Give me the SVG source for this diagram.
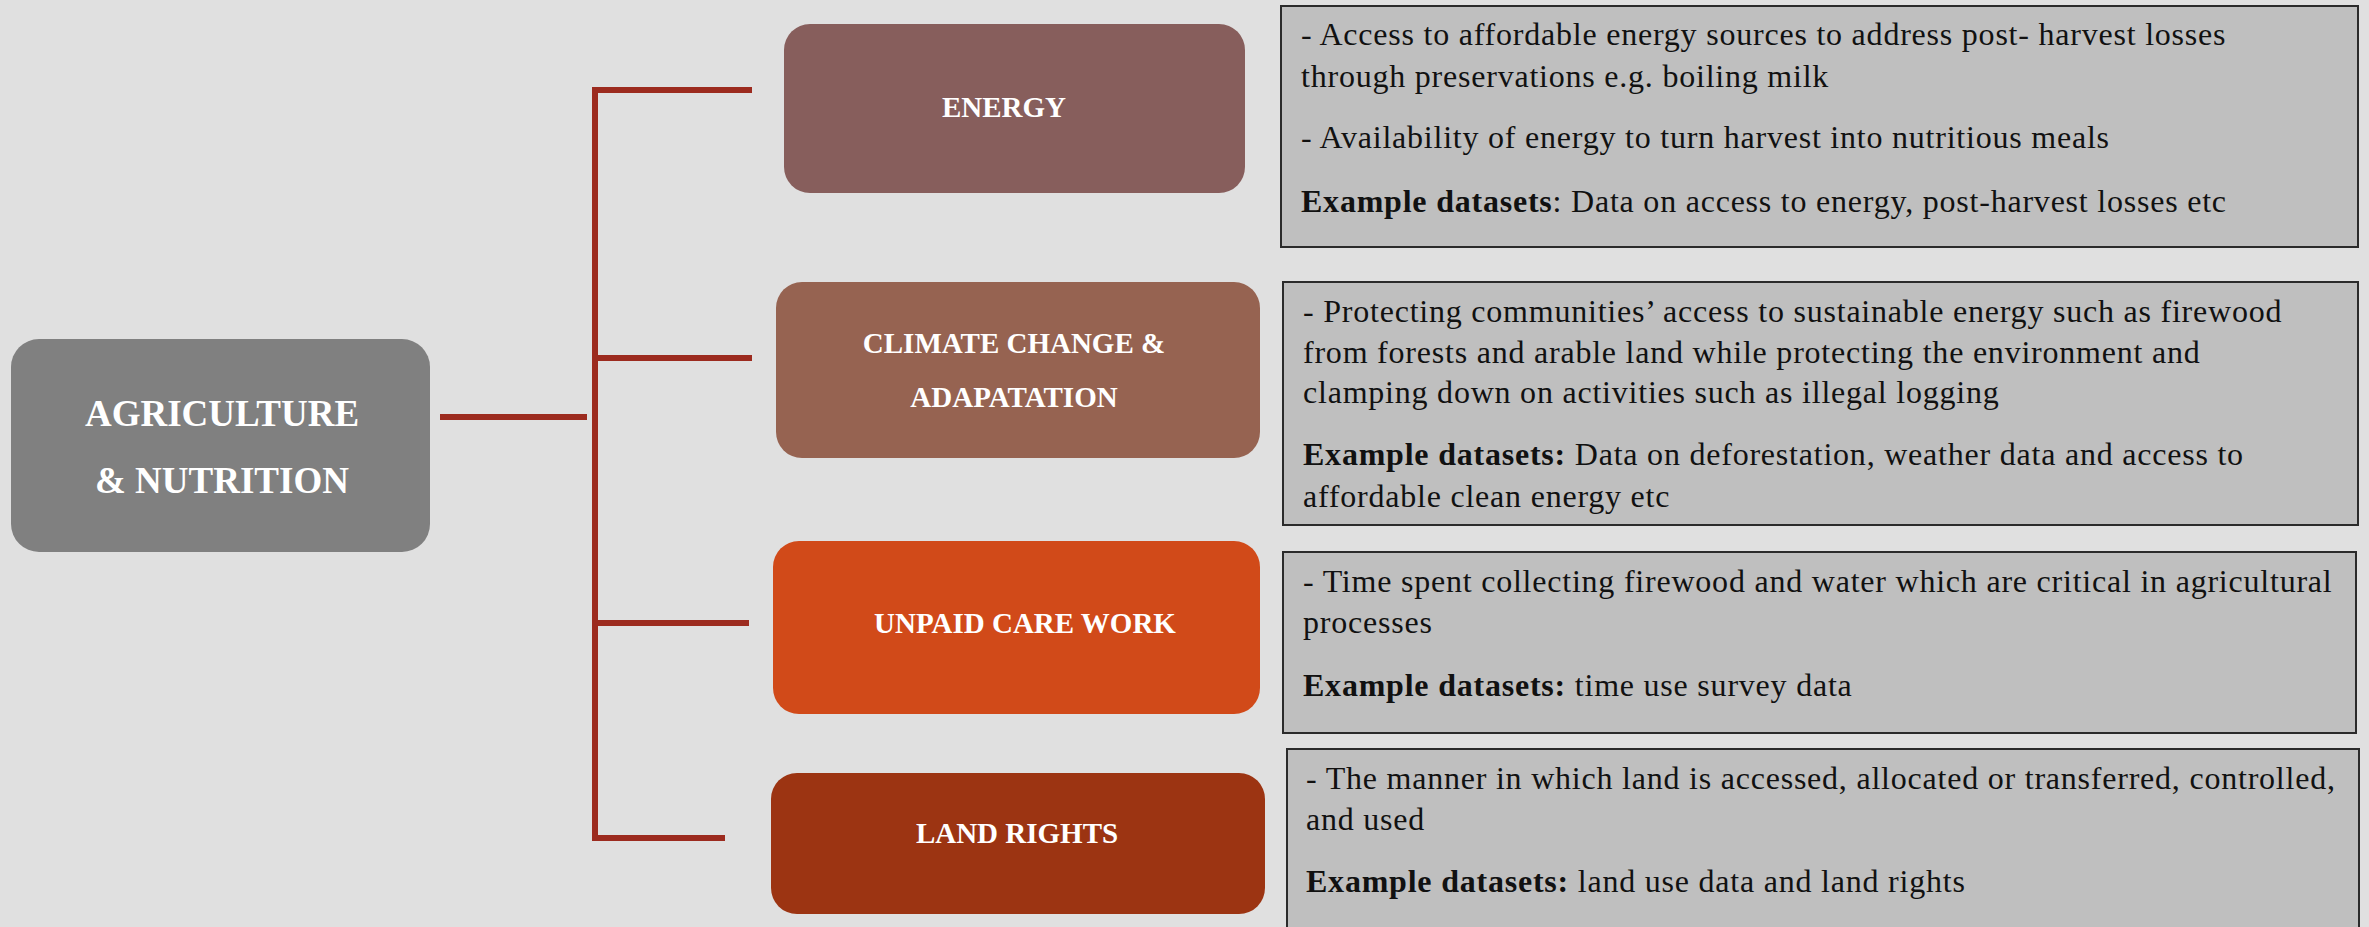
<svg xmlns="http://www.w3.org/2000/svg" width="2369" height="927" viewBox="0 0 2369 927">
<style>
.bg{fill:#e0e0e0}
.node{stroke:none}
.lbl{font-family:"Liberation Serif","Times New Roman",serif;font-weight:bold;font-size:29px;fill:#ffffff;text-anchor:middle}
.big{font-size:37px}
.info{fill:#bfbfbf;stroke:#2b2b2b;stroke-width:2}
.txt{font-family:"Liberation Serif","Times New Roman",serif;font-size:32px;fill:#111111;letter-spacing:0.78px}
.b{font-weight:bold}
.conn{stroke:#9c2b1f;stroke-width:6;fill:none}
</style>
<rect class="bg" x="0" y="0" width="2369" height="927"/>
<g id="connectors">
  <line class="conn" x1="595" y1="87" x2="595" y2="841"/>
  <line class="conn" x1="440" y1="417" x2="587" y2="417"/>
  <line class="conn" x1="598" y1="90" x2="752" y2="90"/>
  <line class="conn" x1="598" y1="358" x2="752" y2="358"/>
  <line class="conn" x1="598" y1="623" x2="749" y2="623"/>
  <line class="conn" x1="598" y1="838" x2="725" y2="838"/>
</g>
<g id="agriculture">
  <rect class="node" x="11" y="339" width="419" height="213" rx="28" fill="#808080"/>
  <text class="lbl big" x="222" y="426">AGRICULTURE</text>
  <text class="lbl big" x="222" y="493">&amp; NUTRITION</text>
</g>
<g id="energy">
  <rect class="node" x="784" y="24" width="461" height="169" rx="26" fill="#875e5c"/>
  <text class="lbl" x="1004" y="117">ENERGY</text>
</g>
<g id="climate">
  <rect class="node" x="776" y="282" width="484" height="176" rx="26" fill="#966351"/>
  <text class="lbl" x="1014" y="353">CLIMATE CHANGE &amp;</text>
  <text class="lbl" x="1014" y="407">ADAPATATION</text>
</g>
<g id="unpaid">
  <rect class="node" x="773" y="541" width="487" height="173" rx="26" fill="#d14a19"/>
  <text class="lbl" x="1025" y="633">UNPAID CARE WORK</text>
</g>
<g id="land">
  <rect class="node" x="771" y="773" width="494" height="141" rx="26" fill="#9c3412"/>
  <text class="lbl" x="1017" y="843">LAND RIGHTS</text>
</g>
<g id="energy-info">
  <rect class="info" x="1281" y="6" width="1077" height="241"/>
  <text class="txt" x="1301" y="45">- Access to affordable energy sources to address post- harvest losses</text>
  <text class="txt" x="1301" y="87">through preservations e.g. boiling milk</text>
  <text class="txt" x="1301" y="148">- Availability of energy to turn harvest into nutritious meals</text>
  <text class="txt" x="1301" y="212"><tspan class="b">Example datasets</tspan>: Data on access to energy, post-harvest losses etc</text>
</g>
<g id="climate-info">
  <rect class="info" x="1283" y="282" width="1075" height="243"/>
  <text class="txt" x="1303" y="322">- Protecting communities’ access to sustainable energy such as firewood</text>
  <text class="txt" x="1303" y="363">from forests and arable land while protecting the environment and</text>
  <text class="txt" x="1303" y="403">clamping down on activities such as illegal logging</text>
  <text class="txt" x="1303" y="465"><tspan class="b">Example datasets:</tspan> Data on deforestation, weather data and access to</text>
  <text class="txt" x="1303" y="507">affordable clean energy etc</text>
</g>
<g id="unpaid-info">
  <rect class="info" x="1283" y="552" width="1073" height="181"/>
  <text class="txt" x="1303" y="592">- Time spent collecting firewood and water which are critical in agricultural</text>
  <text class="txt" x="1303" y="633">processes</text>
  <text class="txt" x="1303" y="696"><tspan class="b">Example datasets:</tspan> time use survey data</text>
</g>
<g id="land-info">
  <rect class="info" x="1287" y="749" width="1072" height="190"/>
  <text class="txt" x="1306" y="789">- The manner in which land is accessed, allocated or transferred, controlled,</text>
  <text class="txt" x="1306" y="830">and used</text>
  <text class="txt" x="1306" y="892"><tspan class="b">Example datasets:</tspan> land use data and land rights</text>
</g>
</svg>
